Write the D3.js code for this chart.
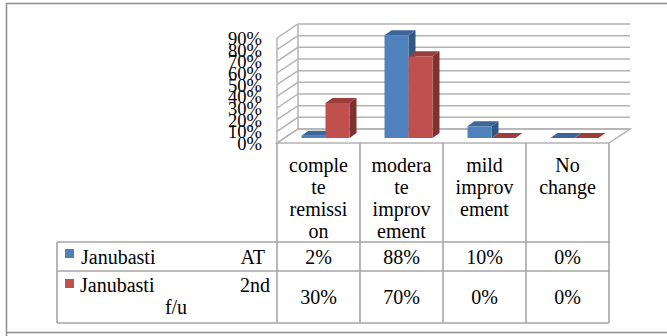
<!DOCTYPE html>
<html>
<head>
<meta charset="utf-8">
<script src="https://cdn.jsdelivr.net/npm/d3@7"></script>
<style>
  html, body { margin: 0; padding: 0; background: #fff; }
  svg { display: block; }
</style>
</head>
<body>
<svg id="chart" width="667" height="336" font-family="'Liberation Serif', Tinos, 'Times New Roman', 'DejaVu Serif', serif"></svg>
<script>
// Outcome categories (header cells, one line per array entry)
const categories = ["complete remission", "moderate improvement", "mild improvement", "No change"];
const categoryLines = [
  ["comple", "te", "remissi", "on"],
  ["modera", "te", "improv", "ement"],
  ["mild", "improv", "ement"],
  ["No", "change"]
];
// Series
const seriesNames = ["Janubasti AT", "Janubasti 2nd f/u"];
const valuesAT = [0.02, 0.88, 0.10, 0.00];
const values2nd = [0.30, 0.70, 0.00, 0.00];
const yTicks = [0, 0.1, 0.2, 0.3, 0.4, 0.5, 0.6, 0.7, 0.8, 0.9];

const seriesValues = [valuesAT, values2nd];
const colors = [
  { front: "#4F81BD", top: "#3C6599", side: "#34577F" },
  { front: "#C0504D", top: "#9A3E3B", side: "#7D3230" }
];

const svg = d3.select("#chart");
const pct = d3.format(".0%");

// Plot geometry: front plane and oblique depth offset of the walls
const left = 277, right = 609, floorY = 143;
const wallDx = 21, wallDy = -14;
const barShiftX = 7, barShiftY = -5;   // bars sit part-way into the depth
const barDepthX = 7, barDepthY = -5;

const y = d3.scaleLinear().domain([0, 0.9]).range([floorY, 38]);
const x0 = d3.scaleBand().domain(categories).range([left, right]).padding(0);
const x1 = d3.scaleBand().domain(seriesNames).range([0, x0.bandwidth()]).paddingOuter(0.73).paddingInner(0);

const gridColor = "#B3B3B3";

// Outer frame
svg.append("path")
  .attr("d", "M6.5,336 V3.5 H667 M6.5,332.5 H667")
  .attr("fill", "none").attr("stroke", "#8C8C8C").attr("stroke-width", 1.5);

// Floor
svg.append("path")
  .attr("d", `M${left},${floorY} L${right},${floorY} L${right + wallDx},${floorY + wallDy} L${left + wallDx},${floorY + wallDy} Z`)
  .attr("fill", "#fff").attr("stroke", gridColor).attr("stroke-width", 1.5);

// Gridlines across left wall and back wall
const grid = svg.append("g").attr("fill", "none").attr("stroke", gridColor).attr("stroke-width", 1.5);
grid.selectAll("path.g").data(yTicks).join("path")
  .attr("class", "g")
  .attr("d", d => `M${left},${y(d)} L${left + wallDx},${y(d) + wallDy} L${right + wallDx},${y(d) + wallDy}`);
// Wall edges
grid.append("path").attr("d", `M${left},${y(0)} V${y(0.9)}`);
grid.append("path").attr("d", `M${left + wallDx},${y(0) + wallDy} V${y(0.9) + wallDy}`);

// Y axis labels
svg.append("g").selectAll("text").data(yTicks).join("text")
  .attr("x", 262).attr("y", d => y(d) + 1)
  .attr("text-anchor", "end").attr("dominant-baseline", "central")
  .attr("font-size", 18.5)
  .text(d => pct(d));

// 3D bars
const bars = svg.append("g");
categories.forEach((c, ci) => {
  seriesNames.forEach((s, si) => {
    const v = seriesValues[si][ci];
    const col = colors[si];
    const bx = x0(c) + x1(s) + barShiftX;
    const bw = x1.bandwidth();
    const yb = y(0) + barShiftY;
    const yt = y(v) + barShiftY;
    const g = bars.append("g");
    if (v > 0) {
      g.append("path")
        .attr("d", `M${bx + bw},${yb} L${bx + bw + barDepthX},${yb + barDepthY} L${bx + bw + barDepthX},${yt + barDepthY} L${bx + bw},${yt} Z`)
        .attr("fill", col.side);
      g.append("rect")
        .attr("x", bx).attr("y", yt).attr("width", bw).attr("height", yb - yt)
        .attr("fill", col.front);
    }
    g.append("path")
      .attr("d", `M${bx},${yt} L${bx + bw},${yt} L${bx + bw + barDepthX},${yt + barDepthY} L${bx + barDepthX},${yt + barDepthY} Z`)
      .attr("fill", col.top);
  });
});

// Data table
const tableLeft = 57, headerBottom = 242, row1Bottom = 271, row2Bottom = 323;
const tableColor = "#A6A6A6";
const tbl = svg.append("g").attr("fill", "none").attr("stroke", tableColor).attr("stroke-width", 1.6);
tbl.append("path").attr("d", `M${tableLeft},${headerBottom} H${right} M${tableLeft},${row1Bottom} H${right} M${tableLeft},${row2Bottom} H${right} M${tableLeft},${headerBottom} V${row2Bottom}`);
const colEdges = categories.map(c => x0(c)).concat([right]);
tbl.selectAll("path.v").data(colEdges).join("path")
  .attr("class", "v")
  .attr("d", d => `M${d},${floorY} V${row2Bottom}`);

// Header cells
const header = svg.append("g").attr("font-size", 20).attr("text-anchor", "middle");
categories.forEach((c, ci) => {
  const cx = x0(c) + x0.bandwidth() / 2;
  header.append("g").selectAll("text").data(categoryLines[ci]).join("text")
    .attr("x", cx).attr("y", (d, i) => 165 + i * 22)
    .attr("dominant-baseline", "central")
    .text(d => d);
});

// Value rows
const rowsY = [257, 297];
seriesValues.forEach((vals, si) => {
  svg.append("g").attr("font-size", 20).attr("text-anchor", "middle")
    .selectAll("text").data(vals).join("text")
    .attr("x", (d, i) => x0(categories[i]) + x0.bandwidth() / 2)
    .attr("y", rowsY[si])
    .attr("dominant-baseline", "central")
    .text(d => pct(d));
});

// Legend keys with wrapped series names
const legend = svg.append("g").attr("font-size", 20);
legend.append("rect").attr("x", 65).attr("y", 249).attr("width", 9).attr("height", 9).attr("fill", colors[0].front);
legend.append("text").attr("x", 81).attr("y", 257).attr("dominant-baseline", "central").text("Janubasti");
legend.append("text").attr("x", 265).attr("y", 257).attr("text-anchor", "end").attr("dominant-baseline", "central").text("AT");
legend.append("rect").attr("x", 65).attr("y", 279).attr("width", 9).attr("height", 9).attr("fill", colors[1].front);
legend.append("text").attr("x", 80).attr("y", 285).attr("dominant-baseline", "central").text("Janubasti");
legend.append("text").attr("x", 270).attr("y", 285).attr("text-anchor", "end").attr("dominant-baseline", "central").text("2nd");
legend.append("text").attr("x", 176).attr("y", 307).attr("text-anchor", "middle").attr("dominant-baseline", "central").text("f/u");
</script>
</body>
</html>
